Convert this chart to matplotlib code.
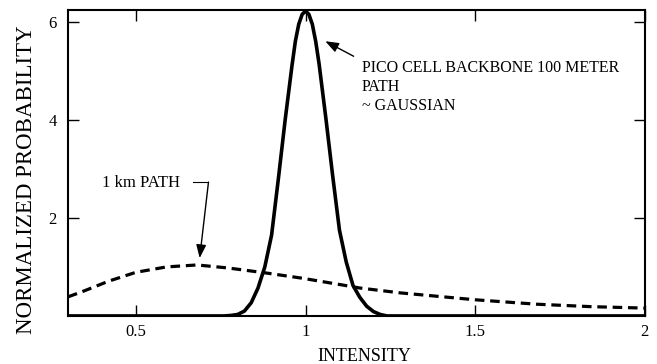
import matplotlib.pyplot as plt

plt.rcParams['font.family'] = ['Liberation Serif', 'DejaVu Serif']

# 100 m pico cell backbone path, close to a gaussian
pico_x = [0.30, 0.76, 0.78, 0.80, 0.82, 0.84, 0.86, 0.88, 0.90, 0.92, 0.94,
          0.96, 0.97, 0.98, 0.99, 1.00, 1.01, 1.02, 1.03, 1.04, 1.06, 1.08,
          1.10, 1.12, 1.14, 1.16, 1.18, 1.20, 1.22, 1.24, 2.00]
pico_y = [0.00, 0.00, 0.01, 0.03, 0.10, 0.27, 0.57, 1.00, 1.65, 2.80, 4.00,
          5.10, 5.60, 5.95, 6.15, 6.22, 6.15, 5.95, 5.60, 5.14, 4.03, 2.86,
          1.75, 1.10, 0.62, 0.38, 0.20, 0.09, 0.03, 0.00, 0.00]

# 1 km path
km_x = [0.30, 0.34, 0.42, 0.50, 0.59, 0.68, 0.77, 0.88, 0.99, 1.11, 1.16,
        1.28, 1.50, 1.68, 1.84, 2.00]
km_y = [0.39, 0.49, 0.71, 0.89, 1.00, 1.04, 0.98, 0.88, 0.77, 0.63, 0.57,
        0.47, 0.33, 0.24, 0.19, 0.16]

x_ticks = [0.5, 1, 1.5, 2]
x_tick_labels = ['0.5', '1', '1.5', '2']
y_ticks = [2, 4, 6]
y_tick_labels = ['2', '4', '6']

fig = plt.figure(figsize=(6.57, 3.64), dpi=100)
ax = fig.add_axes([0.1035, 0.132, 0.878, 0.8405])

ax.plot(km_x, km_y, color='black', lw=2.3, dashes=(3, 1.8))
ax.plot(pico_x, pico_y, color='black', lw=2.6, solid_capstyle='butt')

ax.set_xlim(0.3, 2.0)
ax.set_ylim(0, 6.24)
ax.set_xticks(x_ticks)
ax.set_xticklabels(x_tick_labels)
ax.set_yticks(y_ticks)
ax.set_yticklabels(y_tick_labels)
ax.tick_params(direction='in', length=8, width=1, labelsize=12,
               top=True, right=True)
ax.tick_params(axis='x', pad=6)
ax.tick_params(axis='y', pad=8)
for side in ax.spines.values():
    side.set_linewidth(1.5)

# labels with arrows
ax.text(1.165, 5.22, 'PICO CELL BACKBONE 100 METER\nPATH\n~ GAUSSIAN',
        fontsize=11.5, va='top', ha='left', linespacing=1.25)
ax.annotate('', xy=(1.051, 5.63), xytext=(1.149, 5.27),
            arrowprops=dict(arrowstyle='-|>,head_length=0.8,head_width=0.3',
                            color='black', lw=1))

ax.text(0.40, 2.71, '1 km PATH', fontsize=12, va='center', ha='left')
ax.plot([0.667, 0.714], [2.73, 2.73], color='black', lw=0.8)
ax.annotate('', xy=(0.688, 1.18), xytext=(0.714, 2.73),
            arrowprops=dict(arrowstyle='-|>,head_length=0.8,head_width=0.3',
                            color='black', lw=1, shrinkA=0, shrinkB=0))

fig.text(0.04, 0.505, 'NORMALIZED PROBABILITY', rotation=90,
         ha='center', va='center', fontsize=16.5)
fig.text(0.554, 0.021, 'INTENSITY', ha='center', va='center', fontsize=13)

fig.savefig('out.png', dpi=100)
